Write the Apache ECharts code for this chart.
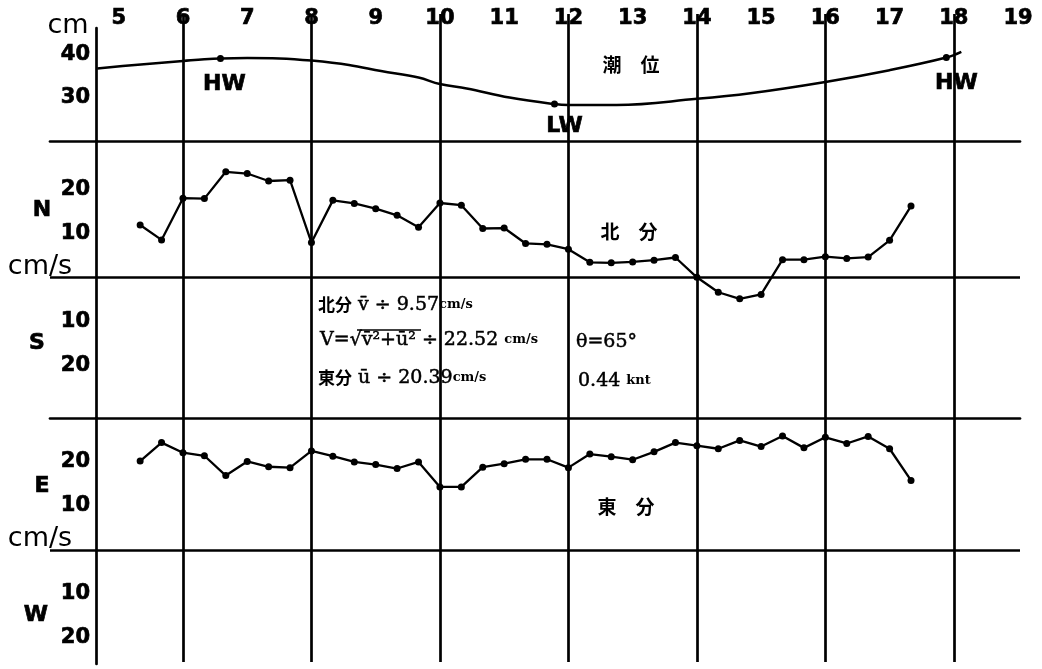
<!DOCTYPE html>
<html><head><meta charset="utf-8">
<script src="https://cdn.jsdelivr.net/npm/echarts@6/dist/echarts.min.js"></script>
<style>html,body{margin:0;padding:0;background:#fff}#c{width:1042px;height:669px}</style>
</head><body><div id="c"></div>
<script>
// ---- data ----
const hourLabels = [5,6,7,8,9,10,11,12,13,14,15,16,17,18,19];
const hourLines = [6,8,10,12,14,16,18];
const obsTimes = ["5:20","5:40","6:00","6:20","6:40","7:00","7:20","7:40","8:00","8:20","8:40","9:00","9:20","9:40","10:00","10:20","10:40","11:00","11:20","11:40","12:00","12:20","12:40","13:00","13:20","13:40","14:00","14:20","14:40","15:00","15:20","15:40","16:00","16:20","16:40","17:00","17:20"];
const northVals = [11.9,8.5,18.0,17.9,24.0,23.6,21.9,22.1,7.9,17.5,16.8,15.6,14.1,11.4,16.9,16.4,11.1,11.2,7.7,7.5,6.4,3.4,3.3,3.5,3.9,4.5,0.0,-3.4,-4.9,-3.9,4.0,4.0,4.7,4.3,4.6,8.4,16.2];
const eastVals = [20.2,24.4,22.1,21.4,16.9,20.1,18.9,18.7,22.5,21.3,20.0,19.4,18.5,20.0,14.3,14.3,18.8,19.6,20.6,20.6,18.7,21.8,21.2,20.5,22.3,24.4,23.7,23.0,24.9,23.5,25.9,23.2,25.6,24.2,25.8,23.0,15.8];
const tideTimes = ["4:40","5:15","6:00","6:20","6:35","7:00","7:30","8:00","8:35","9:05","9:40","10:00","10:25","11:05","11:47","12:00","12:45","14:00","14:50","16:00","17:00","17:53","18:07"];
const tideVals = [36.7,37.5,38.4,38.8,39.0,39.1,39.0,38.5,37.5,36.1,34.6,33.1,32.1,30.0,28.5,28.3,28.3,29.7,31.0,33.6,36.3,39.2,40.5];
const markTimes = ["6:35","11:47","17:53"];
const markVals = [39.0,28.5,39.2];
const markNames = ["HW","LW","HW"];
const tideTicks = [30,40];
const nsTicks = [20,10,-10,-20];
const ewTicks = [20,10,-10,-20];

// ---- helpers ----
const toH = s => { const p = s.split(':').map(Number); return p[0] + p[1]/60; };
const X_MIN = 3.93, X_MAX = 19.03;
const F = 'DejaVu Sans';
const BLACK = '#000';
const GW = 2.7;   // frame line width
const DW = 2.3;   // data line width
const heavy = {color:BLACK, fontFamily:F, fontWeight:'bold', textBorderColor:BLACK, textBorderWidth:0.7};
function xAx(gi, showLine) {
  return {type:'value', gridIndex:gi, min:X_MIN, max:X_MAX,
    axisLabel:{show:false}, axisTick:{show:false}, splitLine:{show:false},
    axisLine:{show:showLine, onZero:false, lineStyle:{color:BLACK, width:GW}}};
}
function yAx(gi, min, max, vals) {
  return {type:'value', gridIndex:gi, min:min, max:max, offset:-46,
    splitLine:{show:false}, axisTick:{show:false},
    axisLine:{show:true, onZero:false, lineStyle:{color:BLACK, width:GW}},
    axisLabel:Object.assign({customValues:vals, formatter:v=>String(Math.abs(v)),
      fontSize:21, margin:6}, heavy)};
}
const zeroLine = {silent:true, symbol:['none','none'], label:{show:false},
  lineStyle:{color:BLACK, width:GW, type:'solid'}, data:[{yAxis:0}]};

const txt = (x, y, text, size, weight, family, border) => ({type:'text', x:x, y:y, z:50,
  style:{text:text, fill:BLACK, fontSize:size, fontWeight:weight||'normal', fontFamily:family||F,
    stroke: border ? BLACK : null, lineWidth: border || 0,
    align:'center', verticalAlign:'middle'}});
const rich = {
  cj:{fontFamily:'Noto Sans CJK JP', fontWeight:'bold', fontSize:17, fill:BLACK},
  sr:{fontFamily:'DejaVu Serif', fontSize:19, fill:BLACK, stroke:BLACK, lineWidth:0.5},
  u:{fontFamily:'DejaVu Serif', fontWeight:'bold', fontSize:13, fill:BLACK}
};
const rtxt = (x, y, text) => ({type:'text', x:x, y:y, z:50,
  style:{text:text, rich:rich, fill:BLACK, align:'left', verticalAlign:'middle'}});

const chart = echarts.init(document.getElementById('c'), null, {renderer:'canvas'});
chart.setOption({
  animation:false,
  backgroundColor:'#fff',
  grid:[
    {left:50, right:22, top:28, height:113},
    {left:50, right:22, top:141, height:277},
    {left:50, right:22, top:418, height:246},
    {left:50, right:22, top:14, height:648}
  ],
  xAxis:[
    xAx(0, true), xAx(1, true), xAx(2, false),
    {type:'value', gridIndex:3, min:X_MIN, max:X_MAX, position:'top', offset:-17,
      axisLine:{show:false}, axisTick:{show:false}, splitLine:{show:false},
      axisLabel:Object.assign({customValues:hourLabels, fontSize:21, margin:2}, heavy)}
  ],
  yAxis:[
    yAx(0, 20, 46, tideTicks),
    yAx(1, -32, 31, nsTicks),
    yAx(2, -26, 30, ewTicks),
    {type:'value', gridIndex:3, min:0, max:1, show:false}
  ],
  series:[
    {type:'line', xAxisIndex:0, yAxisIndex:0, smooth:0.4, showSymbol:false,
      lineStyle:{color:BLACK, width:DW + 0.2}, itemStyle:{color:BLACK},
      data:tideTimes.map((t,i)=>[toH(t), tideVals[i]])},
    {type:'scatter', xAxisIndex:0, yAxisIndex:0, symbolSize:7, itemStyle:{color:BLACK, opacity:1}, z:5,
      label:Object.assign({show:true, position:'bottom', distance:11, offset:[10,0], formatter:p=>p.name,
        fontSize:22, opacity:1}, heavy),
      data:markTimes.map((t,i)=>({name:markNames[i], value:[toH(t), markVals[i]],
        label: i === 0 ? {offset:[4,0]} : (i === 1 ? {distance:8} : {})}))},
    {type:'line', xAxisIndex:1, yAxisIndex:1, symbol:'circle', symbolSize:7,
      lineStyle:{color:BLACK, width:DW}, itemStyle:{color:BLACK},
      data:obsTimes.map((t,i)=>[toH(t), northVals[i]]), markLine:zeroLine},
    {type:'line', xAxisIndex:2, yAxisIndex:2, symbol:'circle', symbolSize:7,
      lineStyle:{color:BLACK, width:DW}, itemStyle:{color:BLACK},
      data:obsTimes.map((t,i)=>[toH(t), eastVals[i]]), markLine:zeroLine},
    {type:'line', xAxisIndex:3, yAxisIndex:3, data:[], showSymbol:false,
      markLine:{silent:true, symbol:['none','none'], label:{show:false},
        lineStyle:{color:BLACK, width:GW, type:'solid'},
        data:hourLines.map(h=>({xAxis:h}))}}
  ],
  graphic:[
    txt(68, 26, 'cm', 27),
    txt(40, 267, 'cm/s', 27),
    txt(40, 539, 'cm/s', 27),
    txt(42, 210, 'N', 22, 'bold', F, 0.7),
    txt(37, 343, 'S', 22, 'bold', F, 0.7),
    txt(42, 486, 'E', 22, 'bold', F, 0.7),
    txt(36, 615, 'W', 22, 'bold', F, 0.7),
    txt(631, 65, '潮\u3000位', 19, 'bold', 'Noto Sans CJK JP'),
    txt(629, 232, '北\u3000分', 19, 'bold', 'Noto Sans CJK JP'),
    txt(626, 507, '東\u3000分', 19, 'bold', 'Noto Sans CJK JP'),
    rtxt(318, 305, '{cj|北分}{sr| v\u0304 ÷ 9.57}{u|cm/s}'),
    rtxt(320, 340, '{sr|V=√v\u0304²+ū² ÷ 22.52 }{u|cm/s}'),
    rtxt(318, 378, '{cj|東分}{sr| ū ÷ 20.39}{u|cm/s}'),
    rtxt(576, 342, '{sr|θ=65°}'),
    rtxt(578, 381, '{sr|0.44 }{u|knt}'),
    {type:'line', z:50, shape:{x1:357, y1:330, x2:421, y2:330}, style:{stroke:BLACK, lineWidth:1.3}}
  ]
});
</script></body></html>
